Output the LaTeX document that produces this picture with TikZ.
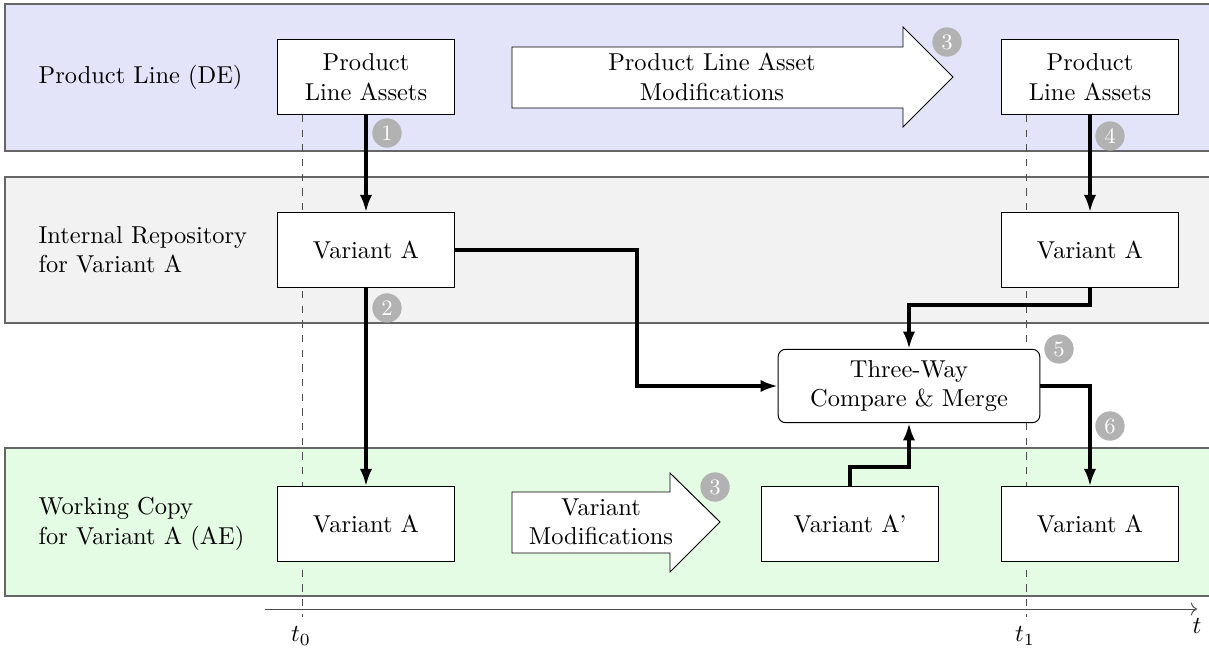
\documentclass[tikz,border=0pt]{standalone}
\usetikzlibrary{arrows.meta}
\definecolor{lineband}{RGB}{227,227,250}
\definecolor{repoband}{RGB}{242,242,242}
\definecolor{copyband}{RGB}{227,252,227}
\begin{document}
\begin{tikzpicture}[x = 0.409pt, y = -0.409pt,
  band/.style = {draw = black!60, line width = 0.7pt},
  lane/.style = {anchor = west, align = left},
  box/.style = {draw, fill = white, align = center, minimum width = 72.4pt, minimum height = 30.6pt},
  merge/.style = {box, rounded corners = 3pt, minimum width = 107pt, minimum height = 30pt},
  bigarrow/.style = {draw, fill = white},
  stepnum/.style = {circle, fill = black!30, text = white, inner sep = 0pt, minimum size = 12pt, font = \small},
  flow/.style = {line width = 1.3pt, -{Latex[length = 7pt, width = 5pt]}},
  timeline/.style = {dashed, black!70}]
\useasboundingbox (0, 0) rectangle (1209, 652);
% Bands
\draw[band, fill = lineband] (5, 4) rectangle (1215, 151);
\draw[band, fill = repoband] (5, 177) rectangle (1215, 323);
\draw[band, fill = copyband] (5, 448) rectangle (1215, 596);
% Time axis
\draw[black!70, ->] (265, 609) -- (1197, 609);
\node (t) at (1197, 626) {$t$};
\node (t0) at (301, 636) {$t_0$};
\node (t1) at (1025, 636) {$t_1$};
\draw[timeline] (302, 115) -- (302, 617);
\draw[timeline] (1026, 115) -- (1026, 617);
% Lane labels
\node[lane] (pl) at (30, 77) {Product Line (DE)};
\node[lane] (ir) at (30, 250) {Internal Repository\\for Variant A};
\node[lane] (wc) at (30, 524) {Working Copy\\for Variant A (AE)};
% Boxes
\node[box] (pla0) at (366, 77) {Product\\Line Assets};
\node[box] (repo0) at (366, 250) {Variant A};
\node[box] (copy0) at (366, 524) {Variant A};
\node[box] (pla1) at (1090, 77) {Product\\Line Assets};
\node[box] (repo1) at (1090, 250) {Variant A};
\node[box] (copy1) at (1090, 524) {Variant A};
\node[box] (copymod) at (850, 524) {Variant A'};
\node[merge] (merge) at (909, 386) {Three-Way\\Compare \& Merge};
% Modification arrows
\draw[bigarrow] (512, 47) -- (903, 47) -- (903, 27) -- (953, 77) -- (903, 127) -- (903, 108) -- (512, 108) -- cycle;
\node[align = center] (plmod) at (712, 77) {Product Line Asset\\Modifications};
\draw[bigarrow] (512, 492) -- (670, 492) -- (670, 473) -- (720, 522) -- (670, 572) -- (670, 553) -- (512, 553) -- cycle;
\node[align = center] (vmod) at (601, 522) {Variant\\Modifications};
% Flows
\draw[flow] (pla0) -- (repo0);
\draw[flow] (repo0) -- (copy0);
\draw[flow] (pla1) -- (repo1);
\draw[flow] (repo0.east) -- (637, 250) |- (merge.west);
\draw[flow] (repo1.south) -- (1090, 305) -| (merge.north);
\draw[flow] (copymod.north) -- (850, 467) -| (merge.south);
\draw[flow] (merge.east) -| (copy1.north);
% Steps
\node[stepnum] (s1) at (387, 133) {1};
\node[stepnum] (s2) at (387, 308) {2};
\node[stepnum] (s3a) at (947, 42) {3};
\node[stepnum] (s3b) at (715, 487) {3};
\node[stepnum] (s4) at (1110, 136) {4};
\node[stepnum] (s5) at (1059, 349) {5};
\node[stepnum] (s6) at (1110, 426) {6};
\end{tikzpicture}
\end{document}
